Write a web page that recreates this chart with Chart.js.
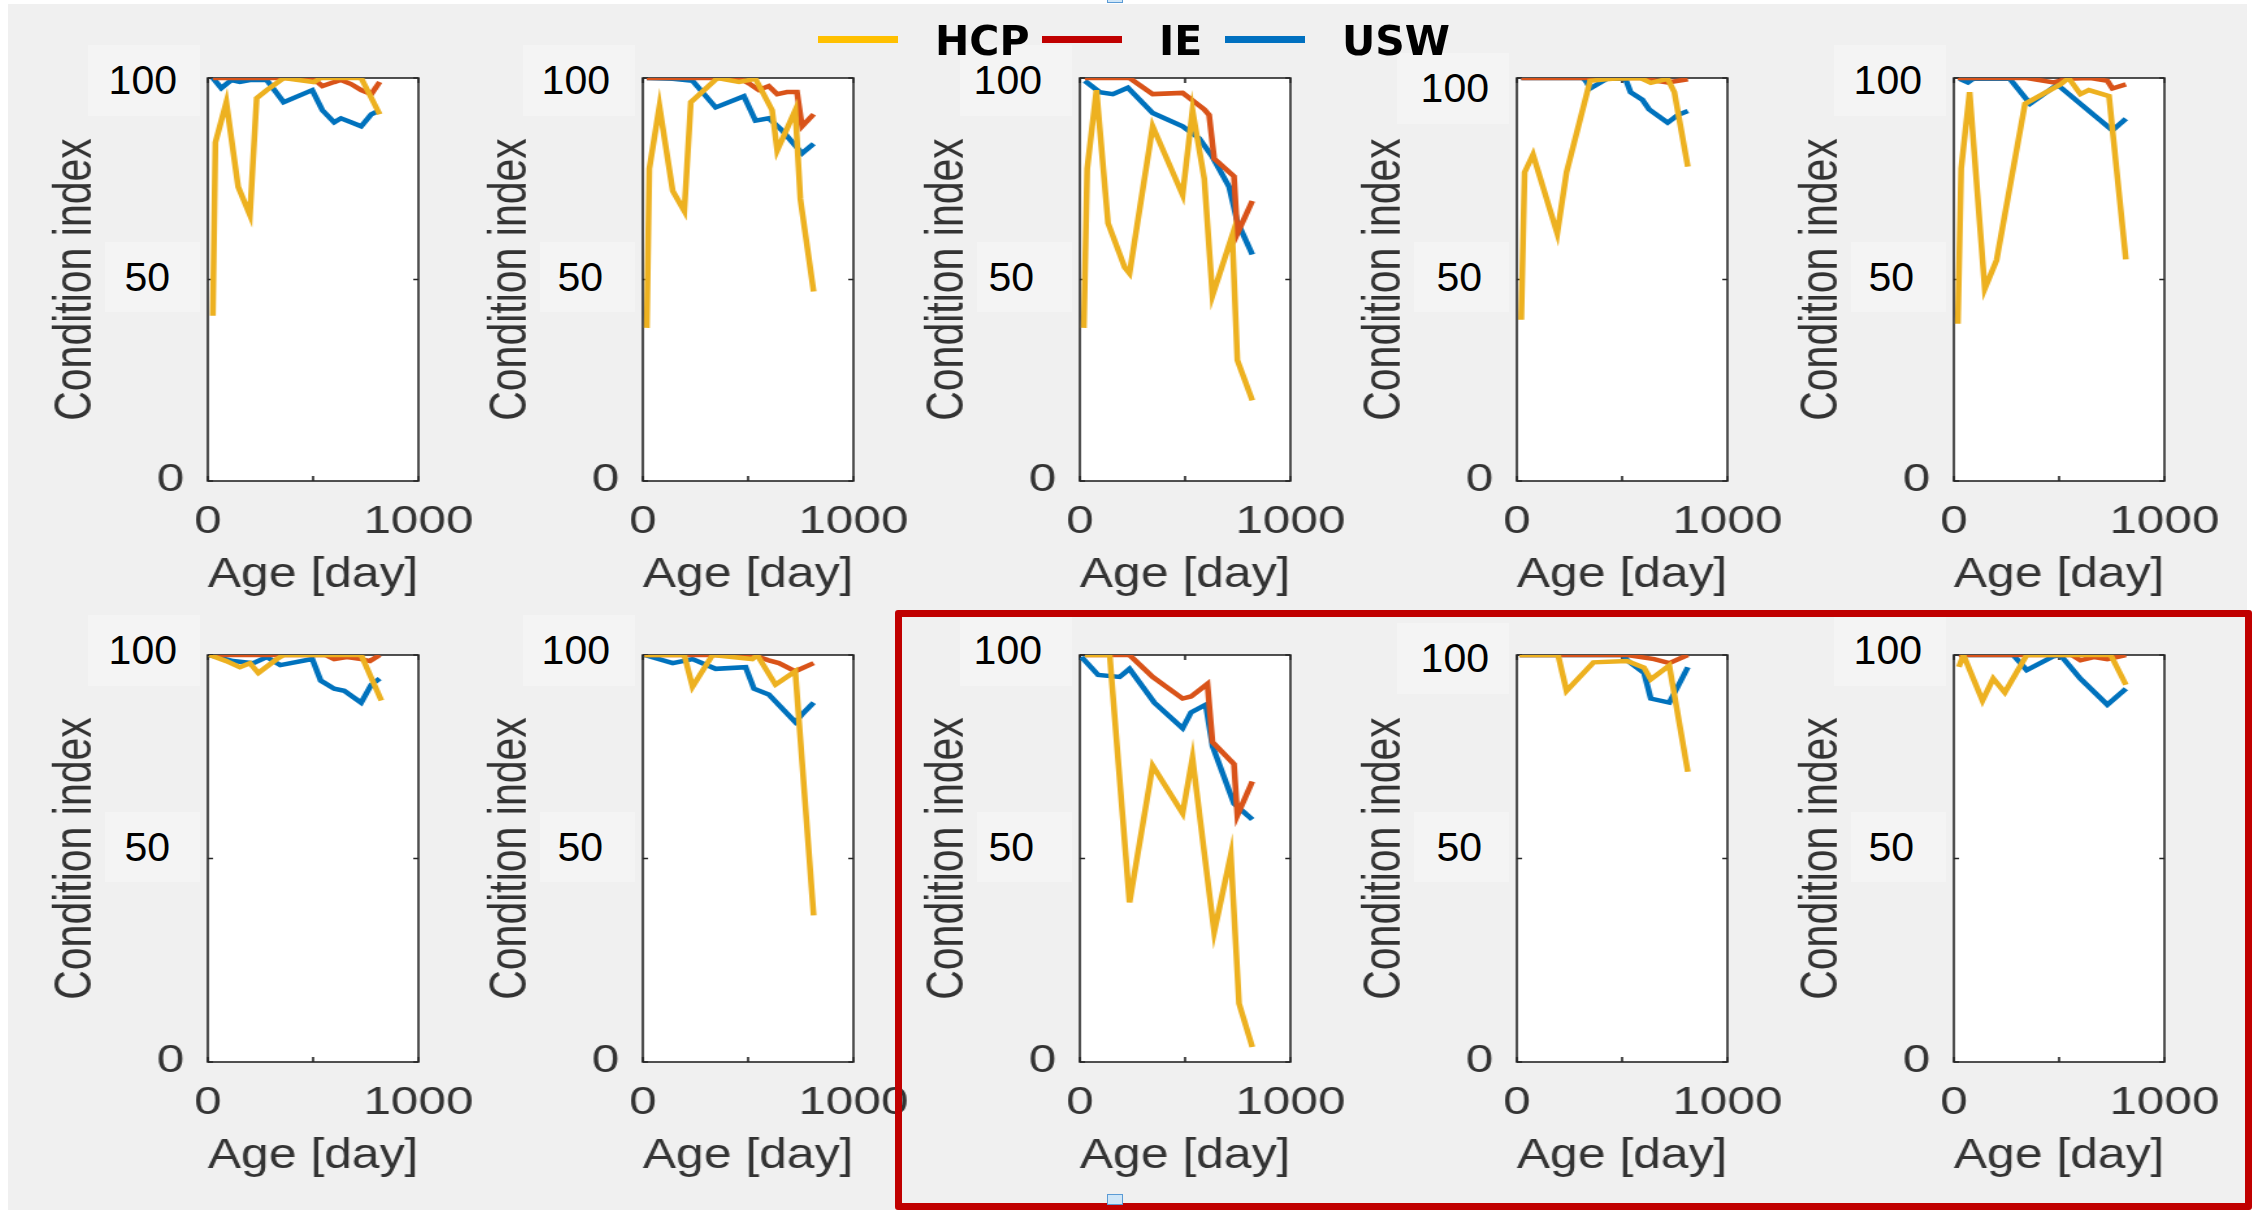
<!DOCTYPE html>
<html>
<head>
<meta charset="utf-8">
<script src="https://cdn.jsdelivr.net/npm/chart.js@4.4.1/dist/chart.umd.min.js"></script>
<style>
body { margin: 0; width: 2264px; height: 1210px; background: #fff; position: relative; overflow: hidden; font-family: 'Liberation Sans', Arial, sans-serif; }
#bg { position: absolute; left: 8px; top: 4px; width: 2239px; height: 1206px; background: #f0f0f0; }
.panel { position: absolute; transform-origin: 0 0; transform: scaleX(1.3); }
.lbl { position: absolute; background: #f4f4f4; color: #000; font-size: 41px; text-align: right; box-sizing: border-box; }
.leg-line { position: absolute; height: 7px; width: 80px; }
.leg-text { position: absolute; font: bold 41px 'DejaVu Sans', sans-serif; height: 50px; line-height: 50px; color: #000; }
#frame { position: absolute; left: 895px; top: 610px; width: 1357px; height: 600px; border: 7px solid #c00000; box-sizing: border-box; border-radius: 3px; }
.handle { position: absolute; width: 16px; height: 11px; background: #cfe6f8; border: 1px solid #5b9bd5; box-sizing: border-box; }
</style>
</head>
<body>
<div id="bg"></div>
<script>
const seriesNames = ['HCP', 'IE', 'USW']
const lineColors = ['#EDB120', '#D95319', '#0072BD']
const legendColors = ['#FFC000', '#C00000', '#0070C0']

const xTicks = [0, 500, 1000]
const xTickLabels = ['0', '', '1000']
const yTicks = [0, 50, 100]
const yTickLabels = ['0', '', '']
const pastedLabels = ['100', '50']

// [age in days, condition index] for each of the 10 panels
const hcp = [
  [[24,41],[36,84],[88,94],[144,73],[200,66],[232,95],[280,97],[360,100],[504,99],[536,100],[728,100],[816,91]],
  [[19,38],[31,77.5],[79,93],[142,72],[197,67],[228,94],[354,100],[457,99],[535,99.8],[614,92],[638,82],[724,92],[748,70],[811,47]],
  [[19,38],[35,77.5],[79,97],[134,64],[213,53],[236,51.5],[346,88],[488,71],[535,92],[591,75],[630,46],[724,61],[748,30],[819,20]],
  [[21,40],[37,76.6],[77,81],[192,61.4],[236,76.6],[348,99.3],[452,99.8],[588,100],[636,98.8],[716,99.8],[748,96.5],[812,78]],
  [[19,39],[35,77.5],[75,96.5],[147,47.7],[203,54.8],[338,93.6],[506,98.4],[545,100],[601,96],[641,97],[737,95.5],[817,55]],
  [[8,100],[88,98.5],[152,97],[200,98],[240,95.6],[328,99],[360,100],[728,100],[824,88.8]],
  [[8,100],[197,100],[236,92.2],[331,100],[520,99],[543,100],[630,92.7],[724,96],[811,36]],
  [[24,100],[142,100],[236,39.2],[346,72.8],[488,61.1],[535,74.7],[638,31.9],[717,50.9],[756,14.4],[819,3.7]],
  [[13,100],[196,100],[236,91.2],[364,98.2],[524,98.5],[604,96.9],[636,94],[724,97.4],[812,71.3]],
  [[24,97.1],[46,100],[136,88.8],[187,94.2],[242,90.8],[346,100],[474,100],[745,100],[817,92.7]]
]
const ie = [
  [[24,100],[496,100],[544,98],[600,99],[632,99.5],[680,98.5],[728,97],[776,96],[816,99]],
  [[19,100],[457,100],[512,98.4],[551,97],[598,98],[638,96],[685,96.5],[732,96.5],[756,88],[811,91]],
  [[24,100],[236,100],[346,96],[488,96.3],[591,92.2],[614,90.8],[638,80],[732,75.6],[748,61.4],[819,69.5]],
  [[21,100],[588,100],[640,99.5],[716,98.9],[812,99.7]],
  [[19,100],[346,100],[474,98.9],[537,99.8],[649,100],[729,99.3],[753,97.4],[817,98.4]],
  [[8,100],[560,100],[600,99],[660,99.5],[728,99],[770,98.5],[816,100]],
  [[8,100],[520,100],[551,99.5],[598,98.7],[646,98],[724,96],[811,98]],
  [[24,100],[236,100],[346,94.6],[488,89.3],[528,89.8],[606,92.9],[630,78.6],[732,73.2],[748,60.6],[819,68.9]],
  [[13,100],[524,100],[652,99],[724,98],[812,100]],
  [[24,100],[560,100],[601,98.7],[665,99.5],[729,99],[817,100]]
]
const usw = [
  [[24,100],[64,97.5],[112,99.5],[152,99],[200,99.5],[280,99.5],[360,94],[496,97],[544,92],[600,89],[632,90],[680,89],[728,88],[776,91],[816,92]],
  [[19,100],[142,99.8],[236,99.3],[346,92.7],[480,95.5],[535,89.4],[598,90],[661,87],[756,81.3],[811,83.7]],
  [[24,99.3],[94,96.5],[157,96],[228,97.6],[346,91.3],[488,88],[567,85],[630,80.4],[709,73],[748,64.3],[819,56.2]],
  [[21,100],[316,100],[332,98.9],[348,97.4],[428,99.8],[516,99.8],[540,96.5],[596,94.6],[628,92.2],[716,88.9],[764,90.8],[812,91.8]],
  [[27,99.8],[67,98.9],[91,99.8],[266,99.8],[362,93.6],[490,98.3],[514,97.4],[665,90.8],[753,87],[817,89.9]],
  [[8,100],[120,98.5],[216,98],[280,99.5],[344,97.5],[496,99],[536,93.7],[600,91.7],[648,91.2],[728,88.3],[776,92.7],[816,94.2]],
  [[8,100],[142,98],[236,99],[346,96.6],[488,97],[528,91.7],[598,90.3],[724,83.5],[756,85.4],[811,88.3]],
  [[8,99.5],[87,95.1],[189,94.6],[236,96.6],[354,88.3],[488,82],[528,85.9],[598,87.8],[630,77.6],[732,63.5],[819,59.6]],
  [[13,100],[508,100],[524,98.7],[604,95.6],[636,89.3],[724,88.3],[764,92.2],[812,97]],
  [[24,100],[282,100],[346,96.3],[474,99.7],[506,100],[601,94.2],[729,87.8],[817,91.7]]
]

// page layout (the original figure is stretched sideways by about 1.3)
const S = 1.3
const colLeft = [208, 643, 1080, 1517, 1954]
const rowTop = [78, 655]
const rowH = [403, 407]
const yAxisW = 126
const padRight = 50
const plotW = 162
const xAxisH = 130
const lbl100Off = [31, 33, 38, 28, 32]
const lbl50Off = [38, 40, 46, 35, 40]
const lblY = [[80, 277], [650, 847]]
const lbl100Dy = [0, 0, 0, 8, 0]
const axisText = '#333333'

Chart.defaults.font.family = "'Liberation Sans', Arial, sans-serif"

const boxPlugin = {
  id: 'matlabBox',
  beforeDraw(chart) {
    const a = chart.chartArea, ctx = chart.ctx
    ctx.save()
    ctx.fillStyle = '#ffffff'
    ctx.fillRect(a.left, a.top, a.width, a.height)
    ctx.restore()
  },
  beforeDatasetsDraw(chart) {
    const a = chart.chartArea, ctx = chart.ctx
    const xs = chart.scales.x, ys = chart.scales.y
    ctx.save()
    ctx.strokeStyle = '#262626'
    ctx.lineWidth = 1.6
    ctx.strokeRect(a.left, a.top, a.width, a.height)
    ctx.beginPath()
    xTicks.forEach(v => {
      const px = xs.getPixelForValue(v)
      ctx.moveTo(px, a.bottom); ctx.lineTo(px, a.bottom - 5)
      ctx.moveTo(px, a.top); ctx.lineTo(px, a.top + 5)
    })
    yTicks.forEach(v => {
      const py = ys.getPixelForValue(v)
      ctx.moveTo(a.left, py); ctx.lineTo(a.left + 4, py)
      ctx.moveTo(a.right, py); ctx.lineTo(a.right - 4, py)
    })
    ctx.stroke()
    ctx.restore()
  }
}

for (let i = 0; i < 10; i++) {
  const r = Math.floor(i / 5), c = i % 5
  const wrap = document.createElement('div')
  wrap.className = 'panel'
  wrap.style.left = (colLeft[c] - yAxisW * S) + 'px'
  wrap.style.top = (rowTop[r] - 20) + 'px'
  const cv = document.createElement('canvas')
  cv.width = yAxisW + plotW + padRight
  cv.height = 20 + rowH[r] + xAxisH
  wrap.appendChild(cv)
  document.body.appendChild(wrap)

  new Chart(cv, {
    type: 'line',
    data: {
      datasets: [hcp[i], ie[i], usw[i]].map((pts, k) => ({
        label: seriesNames[k],
        data: pts.map(p => ({ x: p[0], y: p[1] })),
        borderColor: lineColors[k],
        borderWidth: 4.5,
        pointRadius: 0,
        tension: 0
      }))
    },
    options: {
      responsive: false,
      animation: false,
      events: [],
      layout: { padding: { top: 20, right: padRight, left: 0, bottom: 0 } },
      plugins: { legend: { display: false }, tooltip: { enabled: false } },
      scales: {
        x: {
          type: 'linear', min: 0, max: 1000,
          afterBuildTicks: s => { s.ticks = xTicks.map(v => ({ value: v })) },
          afterFit: s => { s.height = xAxisH; s.paddingLeft = 0; s.paddingRight = 0 },
          grid: { display: false, drawTicks: false },
          border: { display: false },
          ticks: {
            padding: 19, color: axisText, font: { size: 38 }, maxRotation: 0, autoSkip: false,
            callback: v => xTickLabels[xTicks.indexOf(v)]
          },
          title: { display: true, text: 'Age [day]', color: axisText, font: { size: 43 }, padding: { top: 0, bottom: 10 } }
        },
        y: {
          min: 0, max: 100,
          afterBuildTicks: s => { s.ticks = yTicks.map(v => ({ value: v })) },
          afterFit: s => { s.width = yAxisW; s.paddingTop = 0; s.paddingBottom = 0 },
          grid: { display: false, drawTicks: false },
          border: { display: false },
          ticks: {
            padding: 18, color: axisText, font: { size: 38 }, autoSkip: false,
            callback: v => yTickLabels[yTicks.indexOf(v)]
          },
          title: { display: true, text: 'Condition index', color: axisText, font: { size: 41 }, padding: { top: 0, bottom: 0 } }
        }
      }
    },
    plugins: [boxPlugin]
  })

  // the pasted "100" and "50" boxes over the y axis
  const boxes = [[112, 71, lbl100Off[c], lblY[r][0] + lbl100Dy[c]], [95, 70, lbl50Off[c], lblY[r][1]]]
  boxes.forEach((b, k) => {
    const d = document.createElement('div')
    d.className = 'lbl'
    d.textContent = pastedLabels[k]
    d.style.left = (colLeft[c] - 8 - b[0]) + 'px'
    d.style.width = b[0] + 'px'
    d.style.height = b[1] + 'px'
    d.style.lineHeight = b[1] + 'px'
    d.style.top = (b[3] - b[1] / 2) + 'px'
    d.style.paddingRight = (b[2] - 8) + 'px'
    document.body.appendChild(d)
  })
}

// figure legend
const legendX = [818, 1042, 1225]
seriesNames.forEach((name, k) => {
  const ln = document.createElement('div')
  ln.className = 'leg-line'
  ln.style.left = legendX[k] + 'px'
  ln.style.top = '36px'
  ln.style.background = legendColors[k]
  document.body.appendChild(ln)
  const tx = document.createElement('div')
  tx.className = 'leg-text'
  tx.textContent = name
  tx.style.left = (legendX[k] + 117) + 'px'
  tx.style.top = '16px'
  document.body.appendChild(tx)
})

const frame = document.createElement('div')
frame.id = 'frame'
document.body.appendChild(frame)
const h1 = document.createElement('div')
h1.className = 'handle'
h1.style.left = '1107px'; h1.style.top = '1194px'
document.body.appendChild(h1)
const h2 = document.createElement('div')
h2.className = 'handle'
h2.style.left = '1107px'; h2.style.top = '-8px'
document.body.appendChild(h2)
</script>
</body>
</html>
